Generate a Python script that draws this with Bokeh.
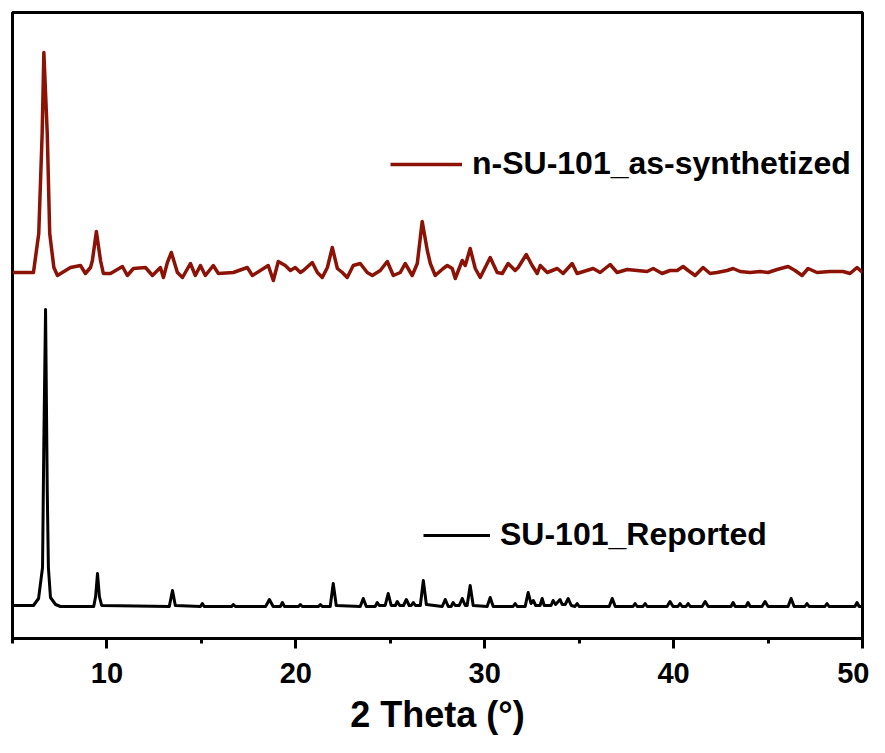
from bokeh.plotting import figure
from bokeh.models import Range1d, SingleIntervalTicker, Legend, LegendItem
from bokeh.embed import file_html
from bokeh.resources import INLINE

# ---- data (2 theta in degrees, intensity in a.u.) ----
reported_2theta = [
    5.00, 6.11, 6.38, 6.59, 6.66, 6.75, 6.84, 6.90, 7.01, 7.28, 7.54,
    9.30, 9.40, 9.50, 9.60, 9.72,
    13.30, 13.47, 13.62,
    14.95, 15.05, 15.15,
    16.60, 16.69, 16.80,
    18.40, 18.60, 18.80,
    19.18, 19.29, 19.40,
    20.14, 20.24, 20.34,
    21.20, 21.30, 21.40,
    21.82, 21.98, 22.14,
    23.41, 23.57, 23.73,
    24.20, 24.31, 24.42,
    24.73, 24.89, 25.05,
    25.27, 25.37, 25.50,
    25.70, 25.85, 26.00,
    26.11, 26.22, 26.33,
    26.59, 26.75, 26.91,
    27.75, 27.91, 28.07,
    28.22, 28.33, 28.44,
    28.65, 28.81, 28.97,
    29.07, 29.23, 29.39,
    30.13, 30.29, 30.45,
    31.50, 31.61, 31.72,
    32.14, 32.30, 32.45, 32.57, 32.70,
    32.93, 33.04, 33.15,
    33.51, 33.62, 33.75, 33.99, 34.10, 34.26, 34.42, 34.58,
    34.78, 34.89, 35.00,
    36.59, 36.75, 36.91,
    37.85, 37.96, 38.07,
    38.38, 38.49, 38.60,
    39.65, 39.81, 39.97,
    40.23, 40.34, 40.45, 40.66, 40.77, 40.88,
    41.51, 41.67, 41.83,
    43.04, 43.15, 43.26,
    43.83, 43.94, 44.05,
    44.68, 44.84, 45.00,
    46.06, 46.22, 46.38,
    46.95, 47.06, 47.17,
    48.01, 48.12, 48.23,
    49.60, 49.71, 49.82, 50.00,
]
reported_intensity = [
    1, 1, 8, 39, 166, 297, 116, 39, 9, 2, 0,
    0, 10, 33, 10, 1,
    0, 16, 1,
    0, 3, 0,
    0, 2, 0,
    0, 7, 0,
    0, 4, 0,
    0, 2, 0,
    0, 2, 0,
    0, 23, 1,
    0, 8, 0,
    0, 4, 1,
    1, 13, 1,
    1, 5, 1,
    1, 7, 1,
    1, 4, 1,
    1, 26, 2,
    0, 7, 0,
    0, 4, 1,
    1, 8, 1,
    1, 21, 1,
    0, 9, 0,
    0, 3, 0,
    0, 14, 3, 6, 1,
    1, 8, 1,
    1, 6, 2, 7, 2, 2, 8, 1,
    0, 3, 0,
    0, 8, 0,
    0, 3, 0,
    0, 3, 0,
    0, 5, 0,
    0, 3, 0, 0, 3, 0,
    0, 5, 0,
    0, 4, 0,
    0, 4, 0,
    0, 5, 0,
    0, 8, 0,
    0, 3, 0,
    0, 3, 0,
    0, 4, 0, 0,
]

synth_2theta = [
    5.00, 6.11, 6.39, 6.57, 6.66, 6.84, 6.97, 7.19, 7.38,
    8.07, 8.60, 8.86, 9.13, 9.23, 9.44, 9.66, 9.81,
    10.19, 10.82, 11.08, 11.40, 12.04, 12.41, 12.83, 12.99,
    13.20, 13.41, 13.73, 14.00, 14.42, 14.68, 14.95, 15.21,
    15.63, 15.90, 16.69, 17.43, 17.70, 18.54, 18.81, 19.07,
    19.44, 19.71, 19.97, 20.24, 20.40, 20.87, 21.14, 21.40,
    21.67, 21.93, 22.20, 22.46, 22.72, 23.04, 23.41, 23.78,
    24.05, 24.47, 24.84, 25.16, 25.53, 25.79, 26.16, 26.43,
    26.69, 26.96, 27.12, 27.38, 27.80, 28.02, 28.28, 28.44,
    28.81, 28.97, 29.23, 29.50, 29.76, 30.29, 30.66, 30.93,
    31.24, 31.61, 31.77, 32.20, 32.51, 32.78, 32.94, 33.31,
    33.84, 34.15, 34.63, 34.89, 35.74, 36.11, 36.64, 37.01,
    37.54, 38.07, 38.60, 38.92, 39.39, 39.81, 40.19, 40.50,
    40.77, 41.14, 41.56, 41.93, 42.30, 42.83, 43.15, 43.52,
    44.05, 44.58, 45.00, 45.48, 46.06, 46.43, 46.80, 47.12,
    47.59, 48.28, 48.97, 49.34, 49.71, 50.00,
]
synth_intensity = [
    0, 0, 39, 139, 220, 139, 39, 5, -3,
    5, 7, -1, 5, 12, 41, 12, -1,
    -1, 6, -3, 4, 5, -3, 5, -5,
    10, 20, 0, -5, 9, -3, 7, -3,
    7, -1, 0, 5, -3, 7, -8, 11,
    7, 2, 5, 0, 2, 10, 0, -5,
    5, 25, 4, 0, -5, 7, 9, 0,
    -3, 2, 11, -3, 0, 9, -3, 9,
    51, 22, 9, -3, 4, 7, 4, -6,
    12, 7, 24, 4, -5, 15, 0, -1,
    9, 2, 5, 18, 7, -1, 7, 0,
    4, -1, 9, -1, 4, 0, 8, 0,
    3, 2, 1, 4, -1, 2, 2, 6,
    2, -3, 5, -1, 0, 2, 4, 1,
    0, 1, 0, 3, 6, 2, -3, 4,
    0, 1, 1, -1, 5, 0,
]

x_ticks_interval = 10
series_names = ["n-SU-101_as-synthetized", "SU-101_Reported"]
SYNTH_OFFSET = 334  # vertical stacking offset (a.u.)

FONT = "Liberation Sans"
RED = "#8c1206"

p = figure(width=869, height=737, output_backend="svg", toolbar_location=None,
           x_range=Range1d(5, 50), y_range=Range1d(-32, 594),
           y_axis_location=None, min_border_left=12, min_border_top=12,
           min_border_right=7, min_border_bottom=99)
p.background_fill_color = "white"
p.border_fill_color = "white"
p.outline_line_color = "black"
p.outline_line_width = 3
p.grid.visible = False

r_black = p.line(reported_2theta, reported_intensity, line_color="black",
                 line_width=3, line_join="round")
r_red = p.line(synth_2theta, [v + SYNTH_OFFSET for v in synth_intensity],
               line_color=RED, line_width=3.5, line_join="round")

ax = p.xaxis[0]
ax.ticker = SingleIntervalTicker(interval=x_ticks_interval, num_minor_ticks=2)
ax.axis_line_width = 3
ax.major_tick_line_width = 3
ax.minor_tick_line_width = 3
ax.major_tick_out = 10
ax.major_tick_in = 0
ax.minor_tick_out = 5
ax.minor_tick_in = 0
ax.major_label_text_font = FONT
ax.major_label_text_font_style = "bold"
ax.major_label_text_font_size = "29px"
ax.major_label_text_color = "black"
ax.major_label_standoff = 14
ax.axis_label = "2 Theta (°)"
ax.axis_label_text_font = FONT
ax.axis_label_text_font_style = "bold"
ax.axis_label_text_font_size = "36px"
ax.axis_label_text_color = "black"
ax.axis_label_standoff = 8


def make_legend(renderer, label, loc, glyph_w):
    lg = Legend(items=[LegendItem(label=label, renderers=[renderer])],
                location=loc, orientation="vertical",
                glyph_width=glyph_w, glyph_height=32, label_height=32,
                label_standoff=10, padding=0, margin=0, spacing=0,
                border_line_color=None, background_fill_alpha=0,
                label_text_font=FONT, label_text_font_style="bold",
                label_text_font_size="32px", label_text_color="black",
                click_policy="none")
    return lg

p.add_layout(make_legend(r_red, series_names[0], (378, 456), 72), "center")
p.add_layout(make_legend(r_black, series_names[1], (411, 85), 67), "center")

open("out.html", "w").write(file_html(p, INLINE))
